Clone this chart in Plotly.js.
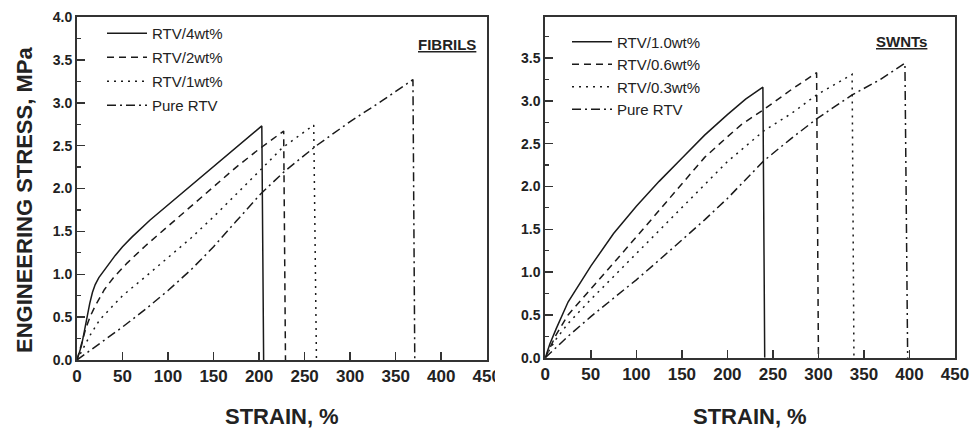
<!DOCTYPE html>
<html>
<head>
<meta charset="utf-8">
<script src="https://cdn.plot.ly/plotly-3.0.1.min.js"></script>
<style>
html,body{margin:0;padding:0;background:#fff;}
#chart{width:973px;height:430px;}
</style>
</head>
<body>
<div id="chart"></div>
<script>
// ---------- FIBRILS panel ----------
const fibNames = ["RTV/4wt%", "RTV/2wt%", "RTV/1wt%", "Pure RTV"];
const fib4Strain = [0, 2, 5, 8, 11, 14, 17, 20, 24, 28, 35, 42, 50, 60, 80, 100, 125, 150, 175, 203, 205];
const fib4Stress = [0, 0.06, 0.17, 0.33, 0.50, 0.66, 0.79, 0.88, 0.96, 1.02, 1.12, 1.22, 1.32, 1.43, 1.63, 1.81, 2.03, 2.25, 2.48, 2.73, 0];
const fib2Strain = [0, 5, 10, 15, 20, 30, 40, 55, 75, 100, 125, 150, 175, 200, 227, 229];
const fib2Stress = [0, 0.20, 0.38, 0.52, 0.63, 0.82, 0.96, 1.13, 1.33, 1.56, 1.79, 2.02, 2.25, 2.46, 2.67, 0];
const fib1Strain = [0, 5, 10, 15, 25, 50, 75, 100, 125, 150, 175, 200, 225, 250, 260, 263];
const fib1Stress = [0, 0.10, 0.20, 0.30, 0.47, 0.75, 0.97, 1.19, 1.42, 1.67, 1.93, 2.20, 2.47, 2.66, 2.74, 0];
const fibPureStrain = [0, 25, 50, 75, 100, 125, 150, 175, 202, 228, 263, 300, 336, 369, 371];
const fibPureStress = [0, 0.19, 0.385, 0.59, 0.81, 1.05, 1.32, 1.62, 1.94, 2.20, 2.50, 2.78, 3.03, 3.27, 0];

// ---------- SWNTs panel ----------
const swNames = ["RTV/1.0wt%", "RTV/0.6wt%", "RTV/0.3wt%", "Pure RTV"];
const sw10Strain = [0, 5, 12, 25, 50, 75, 100, 125, 150, 175, 200, 220, 239, 241];
const sw10Stress = [0, 0.16, 0.34, 0.65, 1.07, 1.45, 1.77, 2.06, 2.33, 2.60, 2.84, 3.02, 3.16, 0];
const sw06Strain = [0, 5, 12, 25, 50, 75, 100, 125, 150, 175, 200, 215, 240, 270, 298, 300];
const sw06Stress = [0, 0.12, 0.27, 0.50, 0.80, 1.10, 1.41, 1.72, 2.03, 2.34, 2.58, 2.72, 2.90, 3.13, 3.33, 0];
const sw03Strain = [0, 5, 12, 25, 50, 75, 100, 125, 150, 175, 200, 240, 270, 298, 337, 339];
const sw03Stress = [0, 0.10, 0.22, 0.40, 0.68, 0.95, 1.22, 1.49, 1.75, 2.02, 2.29, 2.65, 2.85, 3.07, 3.31, 0];
const swPureStrain = [0, 10, 25, 50, 75, 100, 125, 150, 175, 200, 240, 270, 298, 337, 368, 395, 398];
const swPureStress = [0, 0.10, 0.25, 0.48, 0.69, 0.91, 1.14, 1.37, 1.61, 1.86, 2.30, 2.56, 2.79, 3.07, 3.25, 3.44, 0];

const xTicks = [0, 50, 100, 150, 200, 250, 300, 350, 400, 450];
const yTicksLeft = [0, 0.5, 1, 1.5, 2, 2.5, 3, 3.5, 4];
const yTicksRight = [0, 0.5, 1, 1.5, 2, 2.5, 3, 3.5];

const dashes = ["solid", "7px,5px", "2px,5px", "9px,4px,2px,4px"];
const ink = "#1a1a1a";

function mk(x, y, name, i, xa, ya, lg) {
  return {x: x, y: y, name: name, type: "scatter", mode: "lines",
    xaxis: xa, yaxis: ya, legend: lg, legendgroup: lg + i,
    line: {color: ink, width: 1.5, dash: dashes[i]}, hoverinfo: "skip"};
}

const data = [
  mk(fib4Strain, fib4Stress, fibNames[0], 0, "x", "y", "legend"),
  mk(fib2Strain, fib2Stress, fibNames[1], 1, "x", "y", "legend"),
  mk(fib1Strain, fib1Stress, fibNames[2], 2, "x", "y", "legend"),
  mk(fibPureStrain, fibPureStress, fibNames[3], 3, "x", "y", "legend"),
  mk(sw10Strain, sw10Stress, swNames[0], 0, "x2", "y2", "legend2"),
  mk(sw06Strain, sw06Stress, swNames[1], 1, "x2", "y2", "legend2"),
  mk(sw03Strain, sw03Stress, swNames[2], 2, "x2", "y2", "legend2"),
  mk(swPureStrain, swPureStress, swNames[3], 3, "x2", "y2", "legend2")
];

const FONT = "Liberation Sans, Arial, Helvetica, sans-serif";
const W = 878, H = 343, L = 77, B = 360;
const px = v => (v - L) / W;
const py = v => (B - v) / H;

function xax(domain, anchor) {
  return {domain: domain, anchor: anchor, range: [0, 450], tickvals: xTicks,
    ticktext: xTicks.map(String), ticks: "inside", ticklen: 8, tickwidth: 1.5, tickcolor: "#333",
    showline: true, mirror: true, linewidth: 2, linecolor: "#333",
    showgrid: false, zeroline: false, fixedrange: true,
    tickfont: {family: FONT, size: 17, color: "#222", weight: "bold"}};
}
function yax(domain, anchor, range, ticks) {
  return {domain: domain, anchor: anchor, range: range, tickvals: ticks,
    ticktext: ticks.map(v => v.toFixed(1)), ticks: "inside", ticklen: 8, tickwidth: 1.5, tickcolor: "#333",
    minor: {dtick: 0.25, tick0: 0, ticks: "inside", ticklen: 4, tickwidth: 1.2, tickcolor: "#333", showgrid: false},
    showline: true, mirror: true, linewidth: 2, linecolor: "#333",
    showgrid: false, zeroline: false, fixedrange: true,
    tickfont: {family: FONT, size: 14, color: "#222", weight: "bold"}};
}

const legendBase = {bgcolor: "rgba(0,0,0,0)", borderwidth: 0, xanchor: "left", yanchor: "top",
  font: {family: FONT, size: 15, color: "#222"}, itemwidth: 40, itemclick: false, itemdoubleclick: false};

const layout = {
  width: 973, height: 430,
  margin: {l: L, r: 18, t: 17, b: 70, pad: 0},
  paper_bgcolor: "#fff", plot_bgcolor: "#fff",
  showlegend: true,
  xaxis: xax([0, px(486.7)], "y"),
  yaxis: yax([0, 1], "x", [0, 4], yTicksLeft),
  xaxis2: xax([px(545.3), 1], "y2"),
  yaxis2: yax([py(357.7), 1], "x2", [0, 3.98], yTicksRight),
  legend: Object.assign({}, legendBase, {x: px(102), y: py(17), tracegroupgap: 1.5}),
  legend2: Object.assign({}, legendBase, {x: px(567), y: py(25.5), tracegroupgap: 0}),
  annotations: [
    {text: "ENGINEERING STRESS, MPa", xref: "paper", yref: "paper", x: px(24), y: py(200),
      textangle: -90, showarrow: false, xanchor: "center", yanchor: "middle",
      font: {family: FONT, size: 22, color: "#222", weight: "bold"}},
    {text: "STRAIN, %", xref: "paper", yref: "paper", x: px(281.5), y: py(416),
      showarrow: false, xanchor: "center", yanchor: "middle",
      font: {family: FONT, size: 22, color: "#222", weight: "bold"}},
    {text: "STRAIN, %", xref: "paper", yref: "paper", x: px(750), y: py(416),
      showarrow: false, xanchor: "center", yanchor: "middle",
      font: {family: FONT, size: 22, color: "#222", weight: "bold"}},
    {text: "<u>FIBRILS</u>", xref: "paper", yref: "paper", x: px(446.5), y: py(44),
      showarrow: false, xanchor: "center", yanchor: "middle",
      font: {family: FONT, size: 15, color: "#222", weight: "bold"}},
    {text: "<u>SWNTs</u>", xref: "paper", yref: "paper", x: px(901), y: py(41.7),
      showarrow: false, xanchor: "center", yanchor: "middle",
      font: {family: FONT, size: 15, color: "#222", weight: "bold"}}
  ],
  shapes: [
    {type: "rect", xref: "paper", yref: "paper", x0: px(495), x1: px(508), y0: py(392), y1: py(362),
      fillcolor: "#fff", line: {width: 0}, layer: "above"}
  ]
};

Plotly.newPlot("chart", data, layout, {staticPlot: true, displayModeBar: false});
</script>
</body>
</html>
